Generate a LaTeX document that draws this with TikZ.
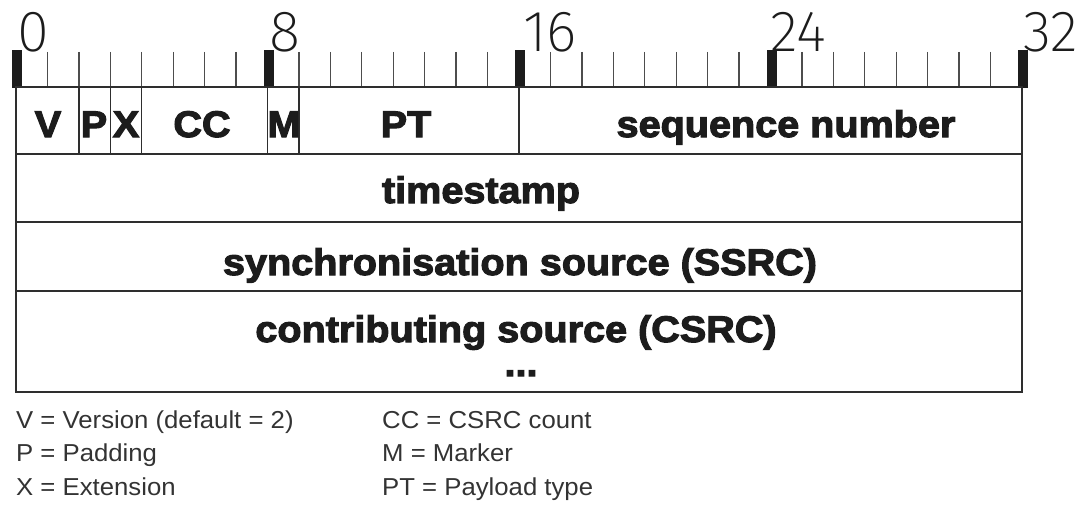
\documentclass[tikz,border=0pt]{standalone}
\usepackage{fontspec}
\setmainfont{Liberation Sans}
\newfontfamily\fieldfont{Liberation Sans}[FakeStretch=1.07, BoldFeatures={FakeBold=3}]
\newfontfamily\legendfont{Liberation Sans}[FakeStretch=1.05]
\newfontfamily\rulerfont{Fira Sans ExtraLight}
\definecolor{ink}{HTML}{1C1C1C}
\definecolor{rule}{HTML}{2E2E2E}
\definecolor{legendgray}{HTML}{333333}
\tikzset{
  frame/.style={draw=rule, line width=1.8pt},
  tickline/.style={draw=rule!85, line width=1.3pt},
  bitmark/.style={fill=ink},
  field/.style={anchor=base, inner sep=0pt, text=ink,
    font=\fieldfont\bfseries\fontsize{37}{40}\selectfont},
  bitnum/.style={anchor=base west, inner sep=0pt, text=ink,
    font=\rulerfont\fontsize{58}{60}\selectfont},
  legend/.style={anchor=base west, inner sep=0pt, text=legendgray,
    font=\legendfont\fontsize{24.5}{26}\selectfont},
}
% horizontal position of bit n
\newcommand{\bitx}[1]{16+#1*31.4375}
\begin{document}
\begin{tikzpicture}[x=1pt, y=-1pt]
\useasboundingbox (0,0) rectangle (1080,511);

% bit ruler
\foreach \b in {1,...,31}
  \draw[tickline] ({\bitx{\b}},52) -- ({\bitx{\b}},87);
\draw[frame] (16,87) -- (1022,87);
\foreach \b in {0,8,16,24,32}
  \fill[bitmark] ({\bitx{\b}-4},50) rectangle ({\bitx{\b}+6},88);
\node[bitnum] (n0)  at ({\bitx{0}+1},52)  {0};
\node[bitnum] (n8)  at ({\bitx{8}+2},52)  {8};
\node[bitnum] (n16) at ({\bitx{16}+4},52) {16};
\node[bitnum] (n24) at ({\bitx{24}},52)   {24};
\node[bitnum] (n32) at ({\bitx{32}+1},52) {32};

% header frame and rows
\draw[frame] (16,87) rectangle (1022,392);
\foreach \y in {154,222,291}
  \draw[frame] (16,\y) -- (1022,\y);
\foreach \b in {2,3,4,8,9,16}
  \draw[frame, line width=1.4pt] ({\bitx{\b}},87) -- ({\bitx{\b}},154);

% field labels
\node[field] (v)   at (48,137)  {V};
\node[field] (p)   at (94,137)  {P};
\node[field] (x)   at (126,137) {X};
\node[field] (cc)  at (202,137) {CC};
\node[field] (m)   at (284,137) {M};
\node[field] (pt)  at (406,137) {PT};
\node[field] (seq) at (786,137) {sequence number};
\node[field] (ts)  at (481,203) {timestamp};
\node[field] (ssrc) at (520,275) {synchronisation source (SSRC)};
\node[field] (csrc) at (516,342) {contributing source (CSRC)};
\node[field] (more) at (521,376) {\smash{...}};

% legend
\node[legend] (lv)  at (16,428)  {V = Version (default = 2)};
\node[legend] (lp)  at (16,461)  {P = Padding};
\node[legend] (lx)  at (16,495)  {X = Extension};
\node[legend] (lcc) at (382,428) {CC = CSRC count};
\node[legend] (lm)  at (382,461) {M = Marker};
\node[legend] (lpt) at (382,495) {PT = Payload type};
\end{tikzpicture}
\end{document}
